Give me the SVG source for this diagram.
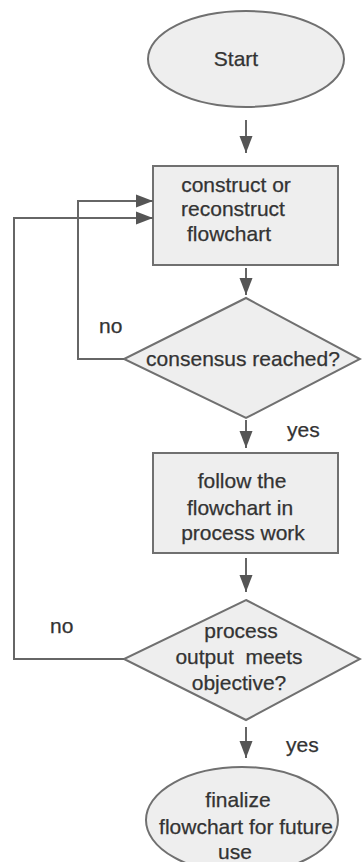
<svg xmlns="http://www.w3.org/2000/svg" width="362" height="862" viewBox="0 0 362 862">
<style>
.shape{fill:#eeeeee;stroke:#707070;stroke-width:2}
.conn{fill:none;stroke:#666666;stroke-width:2}
text{font-family:"Liberation Sans",Arial,sans-serif;font-size:21px;fill:#333333;stroke:#333333;stroke-width:0.25}
.c{text-anchor:middle}
</style>
<defs>
<marker id="ah" markerUnits="userSpaceOnUse" markerWidth="18" markerHeight="14" refX="17" refY="7" orient="auto">
<path d="M0,0.5 L17,7 L0,13.5 Z" fill="#555555"/>
</marker>
</defs>
<g id="start">
<ellipse class="shape" cx="246" cy="59" rx="98" ry="48"/>
<text class="c" x="236" y="66">Start</text>
</g>
<g id="construct">
<rect class="shape" x="153" y="166" width="185" height="99"/>
<text class="c" x="236" y="192">construct or</text>
<text class="c" x="233" y="216">reconstruct</text>
<text class="c" x="229" y="241">flowchart</text>
</g>
<g id="consensus">
<polygon class="shape" points="246,298 360,359 246,418 124,359"/>
<text class="c" x="243" y="366">consensus reached?</text>
</g>
<g id="follow">
<rect class="shape" x="153" y="453" width="185" height="100"/>
<text class="c" x="242" y="488">follow the</text>
<text class="c" x="240" y="515">flowchart in</text>
<text class="c" x="243" y="540">process work</text>
</g>
<g id="objective">
<polygon class="shape" points="246,600 360,659 246,720 124,659"/>
<text class="c" x="241" y="638">process</text>
<text class="c" x="239" y="664" xml:space="preserve">output  meets</text>
<text class="c" x="239" y="690">objective?</text>
</g>
<g id="finalize">
<ellipse class="shape" cx="242" cy="820" rx="96" ry="53"/>
<text class="c" x="238" y="807">finalize</text>
<text class="c" x="246" y="834">flowchart for future</text>
<text class="c" x="235" y="859">use</text>
</g>
<g id="connectors">
<path class="conn" d="M246,120 V153" marker-end="url(#ah)"/>
<path class="conn" d="M246,268 V295" marker-end="url(#ah)"/>
<path class="conn" d="M246,420 V448" marker-end="url(#ah)"/>
<path class="conn" d="M246,558 V592" marker-end="url(#ah)"/>
<path class="conn" d="M246,727 V758" marker-end="url(#ah)"/>
<path class="conn" d="M124,359 H78 V201 H153" marker-end="url(#ah)"/>
<path class="conn" d="M124,659 H14 V218 H153" marker-end="url(#ah)"/>
</g>
<g id="labels">
<text x="99" y="333">no</text>
<text x="287" y="437">yes</text>
<text x="50" y="633">no</text>
<text x="286" y="752">yes</text>
</g>
</svg>
